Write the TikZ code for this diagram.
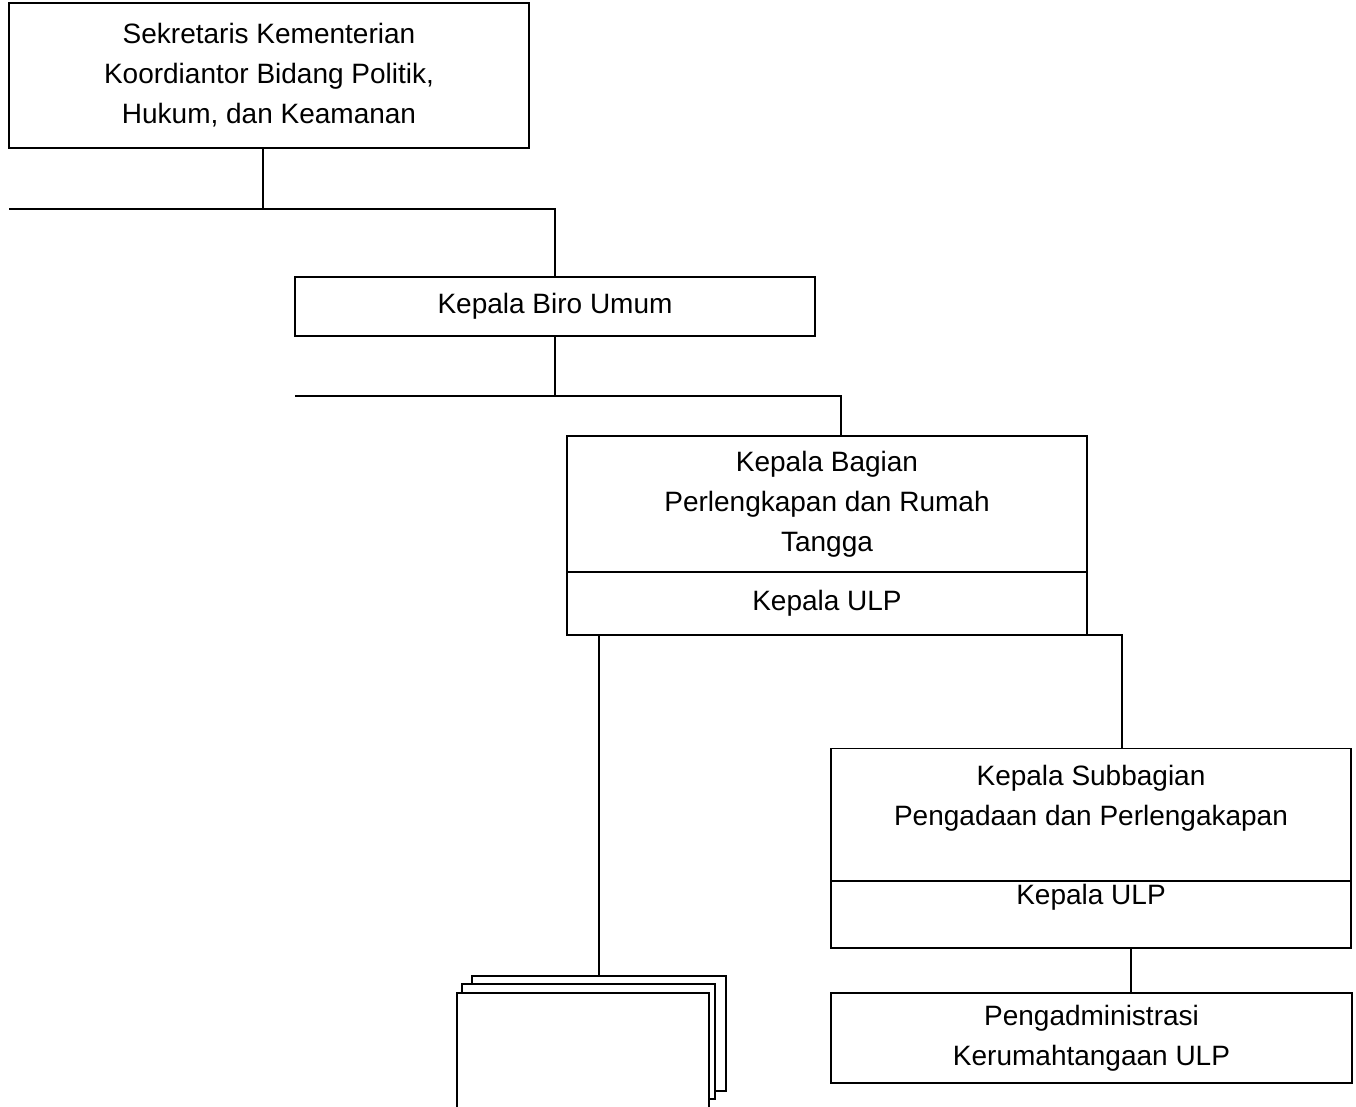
\documentclass[tikz,border=0pt]{standalone}
\usepackage{fontspec}
\setmainfont{Liberation Sans}
\usetikzlibrary{positioning}

\begin{document}
\begin{tikzpicture}[
  x=1pt, y=-1pt,
  box/.style={draw, line width=1.4pt, fill=white, align=center, inner sep=0pt, font=\fontsize{28}{40}\selectfont},
  conn/.style={line width=1.4pt}
]
\useasboundingbox (0,0) rectangle (1356,1107);
\node[box, minimum width=520pt, minimum height=145pt] (sek) at (269,75.5) {Sekretaris Kementerian\\Koordiantor Bidang Politik,\\Hukum, dan Keamanan};
\node[box, minimum width=520pt, minimum height=59pt] (biro) at (555,306.5) {Kepala Biro Umum};
\node[box, minimum width=520pt, minimum height=136pt] (kabag) at (827,504) {Kepala Bagian\\Perlengkapan dan Rumah\\Tangga};
\node[box, minimum width=520pt, minimum height=63pt] (kabagulp) at (827,603.5) {Kepala ULP};
\node[box, minimum width=520pt, minimum height=133pt] (subbag) at (1091,815) {Kepala Subbagian\\Pengadaan dan Perlengakapan\\ \mbox{}};
\node[box, minimum width=520pt, minimum height=67pt] (subulp) at (1091,914.5) {Kepala ULP\\ \mbox{}};
\node[box, minimum width=521pt, minimum height=90pt] (admin) at (1091.5,1038) {Pengadministrasi\\Kerumahtangaan ULP};

% tumpukan
\node[box, minimum width=254pt, minimum height=115pt] (back) at (599,1033.5) {};
\node[box, minimum width=253pt, minimum height=115pt] (mid) at (588.5,1041.5) {};
\node[box, minimum width=252pt, minimum height=130pt] (front) at (583,1058) {};

\coordinate (j1) at (263,209);
\coordinate (l1) at (9,209);
\coordinate (j2) at (841,396);
\coordinate (l2) at (295,396);
\coordinate (r1) at (985,635);
\coordinate (r2) at (1122,748);
\coordinate (r3) at (1131,970);

\draw[conn] (sek.south -| j1) -- (j1);
\draw[conn] (l1) -| (biro.north);
\draw[conn] (biro.south) -- (biro.south |- l2);
\draw[conn] (l2) -| (kabag.north -| j2);
\draw[conn] (back.north) -- (back.north |- kabagulp.south);
\draw[conn] (r1) -| (subbag.north -| r2);
\draw[conn] (subulp.south -| r3) -- (admin.north -| r3);
\end{tikzpicture}
\end{document}
